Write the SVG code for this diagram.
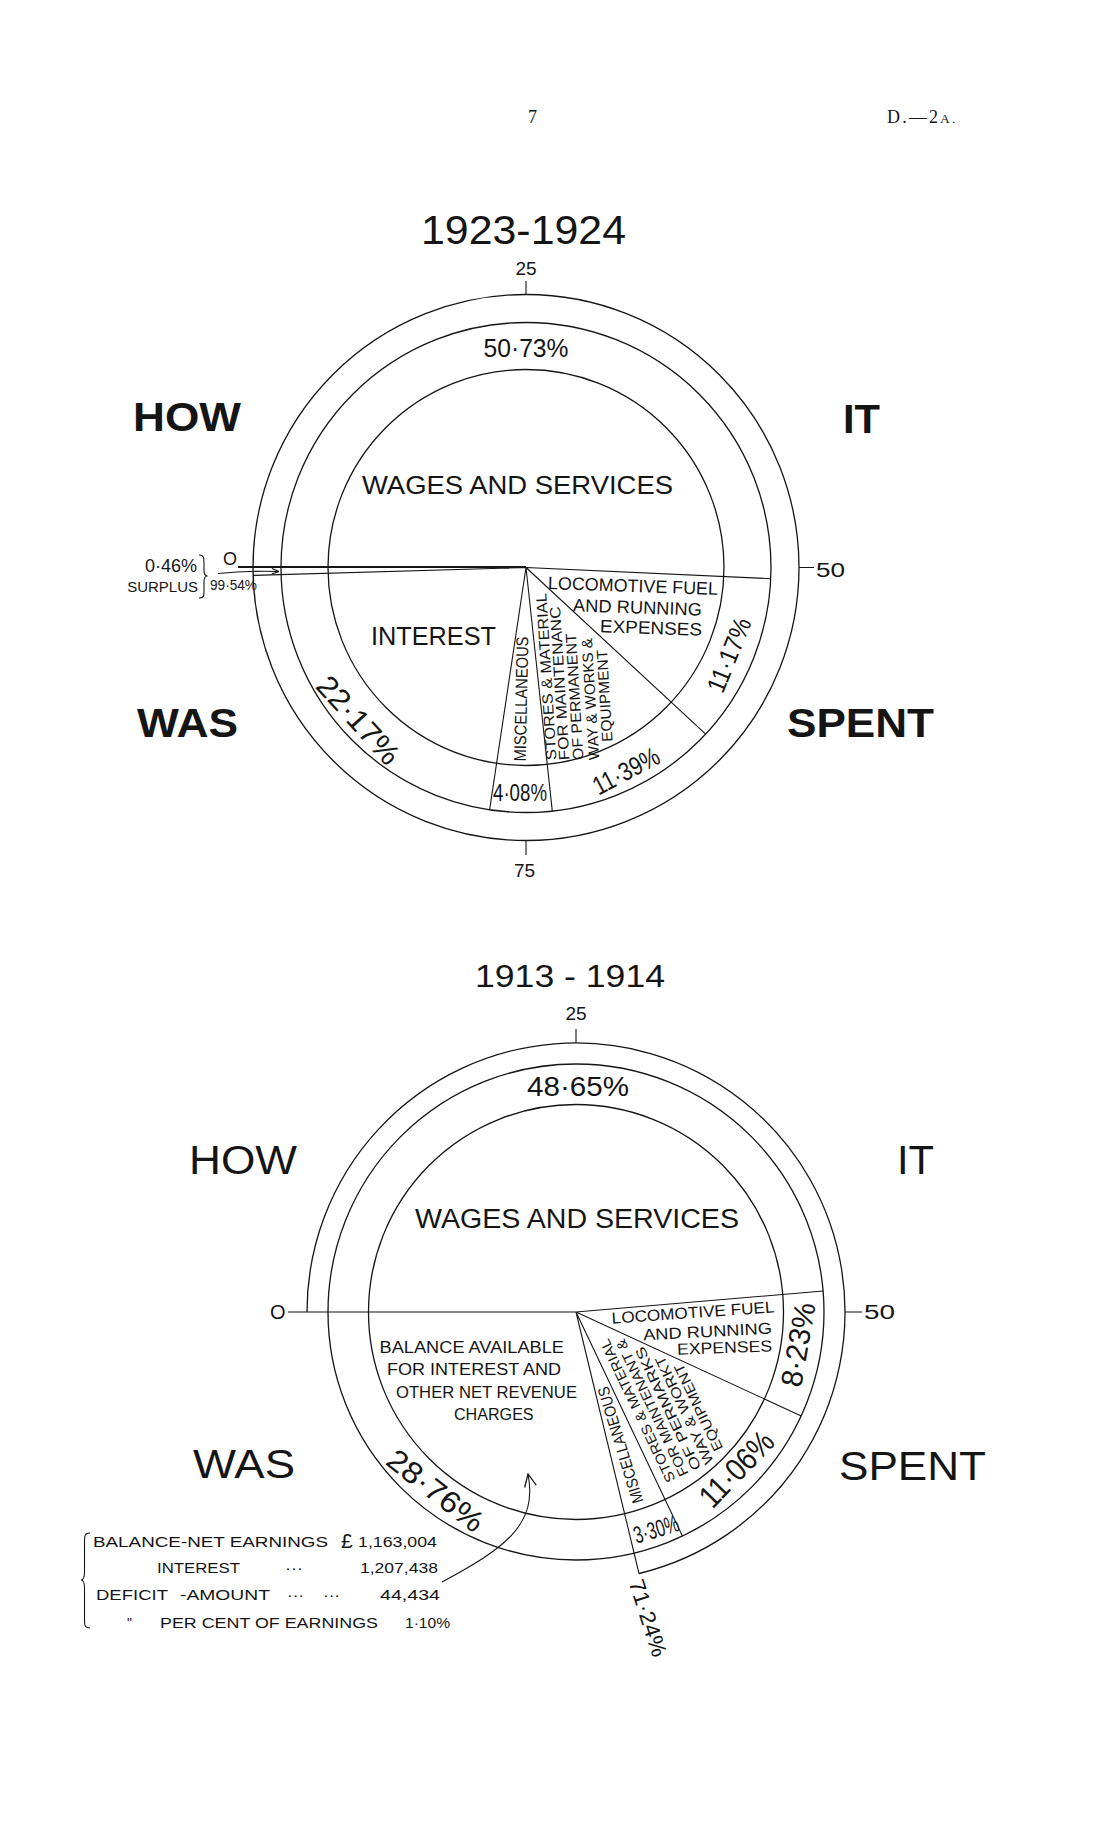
<svg xmlns="http://www.w3.org/2000/svg" width="1114" height="1829" viewBox="0 0 1114 1829">
<defs>
<style>
.ln{fill:none;stroke:#151515;stroke-width:1.1}
.circ{fill:none;stroke:#151515;stroke-width:1.3}
.thick{fill:none;stroke:#151515;stroke-width:1.8}
text{font-family:"Liberation Sans",Arial,sans-serif;fill:#151515}
.serif{font-family:"Liberation Serif","Times New Roman",serif}
.m{text-anchor:middle}
.c{text-anchor:middle;dominant-baseline:central}
.big{font-size:40px}
.b{font-weight:bold}
</style>
<marker id="arrS" viewBox="0 0 10 10" refX="9.5" refY="5" markerWidth="8" markerHeight="8" orient="auto" markerUnits="userSpaceOnUse">
<path d="M0.5,1.5 L9.5,5 L0.5,8.5" fill="none" stroke="#151515" stroke-width="1.3"/>
</marker>
<marker id="arrL" viewBox="0 0 10 10" refX="9.5" refY="5" markerWidth="14" markerHeight="14" orient="auto" markerUnits="userSpaceOnUse">
<path d="M0.5,0.8 L9.5,5 L0.5,9.2" fill="none" stroke="#151515" stroke-width="0.9"/>
</marker>
</defs>
<rect width="1114" height="1829" fill="#ffffff"/>

<g id="header">
<text class="serif" x="528" y="123" font-size="18">7</text>
<text class="serif" x="887" y="123" font-size="18" letter-spacing="2.2">D.—2<tspan font-size="13">A.</tspan></text>
</g>

<!-- ============ 1923-1924 ============ -->
<g id="chart-1923">
<text id="title-1923" x="523.5" y="243.6" font-size="40" class="m" textLength="205" lengthAdjust="spacingAndGlyphs">1923-1924</text>
<g id="rings-1923">
<circle cx="526" cy="567.5" r="273" class="circ"/>
<circle cx="526" cy="567.5" r="245" class="circ"/>
<circle cx="526" cy="567.5" r="198" class="circ"/>
</g>
<g id="scale-1923">
<path class="ln" d="M526,281 V294.5 M526,840.5 V855 M799,567.5 H814"/>
<text x="526" y="275" font-size="19" class="m">25</text>
<text x="524.5" y="877" font-size="19" class="m">75</text>
<text x="816" y="576.5" font-size="20" textLength="29" lengthAdjust="spacingAndGlyphs">50</text>
<text x="223" y="565" font-size="18">O</text>
</g>
<g id="wedges-1923">
<path class="thick" d="M238,567 H526"/>
<path class="ln" d="M526,567.5 L253.1,575.4 M526,567.5 L770.7,578.7 M526,567.5 L705.7,734.1 M526,567.5 L552.3,811.1 M526,567.5 L489.6,809.8"/>
</g>
<g id="wages-1923">
<text x="526" y="357" font-size="26" class="m" textLength="85" lengthAdjust="spacingAndGlyphs">50·73%</text>
<text x="517.5" y="493.6" font-size="25" class="m" textLength="311" lengthAdjust="spacingAndGlyphs">WAGES AND SERVICES</text>
</g>
<g id="loco-1923">
<text x="633" y="592" font-size="18" class="m" textLength="170" lengthAdjust="spacingAndGlyphs" transform="rotate(2 633 586)">LOCOMOTIVE FUEL</text>
<text x="637.5" y="613.5" font-size="18" class="m" textLength="129" lengthAdjust="spacingAndGlyphs" transform="rotate(2 637.5 608)">AND RUNNING</text>
<text x="651" y="634" font-size="18" class="m" textLength="102" lengthAdjust="spacingAndGlyphs" transform="rotate(2 651 628)">EXPENSES</text>
<text class="c" font-size="26" textLength="78" lengthAdjust="spacingAndGlyphs" transform="translate(729 655) rotate(-68)">11·17%</text>
</g>
<g id="stores-1923">
<text class="c" font-size="15" textLength="167" lengthAdjust="spacingAndGlyphs" transform="translate(545.9 676.7) rotate(-93.5)">STORES &amp; MATERIAL</text>
<text class="c" font-size="15" textLength="154" lengthAdjust="spacingAndGlyphs" transform="translate(559.2 683.4) rotate(-93.5)">FOR MAINTENANC</text>
<text class="c" font-size="15" textLength="127" lengthAdjust="spacingAndGlyphs" transform="translate(574.2 696.7) rotate(-93.5)">OF PERMANENT</text>
<text class="c" font-size="15" textLength="122" lengthAdjust="spacingAndGlyphs" transform="translate(590 699.2) rotate(-93.5)">WAY &amp; WORKS &amp;</text>
<text class="c" font-size="15" textLength="92" lengthAdjust="spacingAndGlyphs" transform="translate(604.2 695.9) rotate(-93.5)">EQUIPMENT</text>
<text class="c" font-size="26" textLength="72" lengthAdjust="spacingAndGlyphs" transform="translate(626 771) rotate(-28)">11·39%</text>
</g>
<g id="misc-1923">
<text class="c" font-size="17" textLength="125" lengthAdjust="spacingAndGlyphs" transform="translate(521.5 699) rotate(-88.8)">MISCELLANEOUS</text>
<text x="520" y="801" font-size="24" class="m" textLength="54" lengthAdjust="spacingAndGlyphs">4·08%</text>
</g>
<g id="interest-1923">
<text x="433.5" y="645" font-size="25" class="m" textLength="125" lengthAdjust="spacingAndGlyphs">INTEREST</text>
<text class="c" font-size="30" textLength="108" lengthAdjust="spacingAndGlyphs" transform="translate(358.5 720) rotate(48)">22·17%</text>
</g>
<g id="surplus-1923">
<text x="197" y="572" font-size="18" text-anchor="end">0·46%</text>
<text x="198" y="591.5" font-size="15" text-anchor="end">SURPLUS</text>
<path class="ln" d="M199,555 C204,555 204,558 204,563 L204,570 C204,574 205,576 207.5,576 C205,576 204,578 204,582 L204,591 C204,596 204,598 199,598"/>
<text x="210" y="590" font-size="14" textLength="47" lengthAdjust="spacingAndGlyphs">99·54%</text>
</g>
<g id="words-1923" class="b">
<text x="133" y="431" class="big" textLength="108" lengthAdjust="spacingAndGlyphs">HOW</text>
<text x="843" y="433" class="big" textLength="37" lengthAdjust="spacingAndGlyphs">IT</text>
<text x="137" y="737" class="big" textLength="101" lengthAdjust="spacingAndGlyphs">WAS</text>
<text x="787" y="737" class="big" textLength="147" lengthAdjust="spacingAndGlyphs">SPENT</text>
</g>
</g>

<!-- ============ 1913-1914 ============ -->
<g id="chart-1913">
<text id="title-1913" x="570" y="987" font-size="31" class="m" textLength="190" lengthAdjust="spacingAndGlyphs">1913 - 1914</text>
<g id="rings-1913">
<path class="circ" d="M307,1312 A269,269 0 1 1 639,1573.5"/>
<circle cx="576" cy="1312" r="248" class="circ"/>
<circle cx="576" cy="1312" r="207.5" class="circ"/>
</g>
<g id="scale-1913">
<path class="ln" d="M576,1029 V1043 M845,1312 H862"/>
<text x="576" y="1020" font-size="19" class="m">25</text>
<text x="864" y="1319" font-size="20" textLength="31" lengthAdjust="spacingAndGlyphs">50</text>
<text x="270" y="1319" font-size="20">O</text>
</g>
<g id="wedges-1913">
<path class="ln" d="M288,1312 H576 M576,1312 L823.1,1291 M576,1312 L801.2,1415.9 M576,1312 L682.4,1536 M576,1312 L639,1573.5"/>
</g>
<g id="wages-1913">
<text x="578" y="1096" font-size="27" class="m" textLength="102" lengthAdjust="spacingAndGlyphs">48·65%</text>
<text x="577" y="1228" font-size="27" class="m" textLength="324" lengthAdjust="spacingAndGlyphs">WAGES AND SERVICES</text>
</g>
<g id="loco-1913">
<text x="693" y="1318" font-size="16" class="m" textLength="163" lengthAdjust="spacingAndGlyphs" transform="rotate(-4 693 1312)">LOCOMOTIVE FUEL</text>
<text x="707.5" y="1337" font-size="16" class="m" textLength="129" lengthAdjust="spacingAndGlyphs" transform="rotate(-3 707.5 1331)">AND RUNNING</text>
<text x="724.5" y="1353" font-size="16" class="m" textLength="95" lengthAdjust="spacingAndGlyphs" transform="rotate(-2 724.5 1347)">EXPENSES</text>
<text class="c" font-size="30" textLength="85" lengthAdjust="spacingAndGlyphs" transform="translate(798 1344.5) rotate(-80)">8·23%</text>
</g>
<g id="stores-1913">
<text class="c" font-size="14" textLength="157" lengthAdjust="spacingAndGlyphs" transform="translate(637.5 1410.9) rotate(-115.5)">STORES &amp; MATERIAL</text>
<text class="c" font-size="14" textLength="150" lengthAdjust="spacingAndGlyphs" transform="translate(652 1408) rotate(-115.5)">FOR MAINTENANT &amp;</text>
<text class="c" font-size="14" textLength="135" lengthAdjust="spacingAndGlyphs" transform="translate(667.9 1408.7) rotate(-115.5)">OF PERMARKS</text>
<text class="c" font-size="14" textLength="118" lengthAdjust="spacingAndGlyphs" transform="translate(684.2 1410.3) rotate(-115.5)">WAY &amp; WORKT</text>
<text class="c" font-size="14" textLength="95" lengthAdjust="spacingAndGlyphs" transform="translate(698.3 1407.5) rotate(-115.5)">EQUIPMENT</text>
<text class="c" font-size="32" textLength="92" lengthAdjust="spacingAndGlyphs" transform="translate(736.5 1469) rotate(-46)">11·06%</text>
</g>
<g id="misc-1913">
<text class="c" font-size="16" textLength="121" lengthAdjust="spacingAndGlyphs" transform="translate(620.5 1445) rotate(-107)">MISCELLANEOUS</text>
<text class="c" font-size="24" textLength="46" lengthAdjust="spacingAndGlyphs" transform="translate(656 1529) rotate(-17)">3·30%</text>
<text class="c" font-size="22" textLength="80" lengthAdjust="spacingAndGlyphs" transform="translate(648 1618) rotate(72)">71·24%</text>
</g>
<g id="balance-1913">
<text x="379.6" y="1353" font-size="16" textLength="184.4" lengthAdjust="spacingAndGlyphs">BALANCE AVAILABLE</text>
<text x="387" y="1375" font-size="16" textLength="174" lengthAdjust="spacingAndGlyphs">FOR INTEREST AND</text>
<text x="396" y="1397.5" font-size="16" textLength="181" lengthAdjust="spacingAndGlyphs">OTHER NET REVENUE</text>
<text x="454" y="1420" font-size="16" textLength="79.6" lengthAdjust="spacingAndGlyphs">CHARGES</text>
<text class="c" font-size="30" textLength="114" lengthAdjust="spacingAndGlyphs" transform="translate(435.6 1490.4) rotate(38)">28·76%</text>
</g>
<g id="words-1913">
<text x="189" y="1174" class="big" textLength="108" lengthAdjust="spacingAndGlyphs">HOW</text>
<text x="897" y="1174" class="big" textLength="37" lengthAdjust="spacingAndGlyphs">IT</text>
<text x="193" y="1478" class="big" textLength="102" lengthAdjust="spacingAndGlyphs">WAS</text>
<text x="839" y="1480" class="big" textLength="147" lengthAdjust="spacingAndGlyphs">SPENT</text>
</g>
<g id="deficit-table" font-size="14">
<path class="ln" d="M90,1533 C84.5,1533 84.5,1536 84.5,1541 L84.5,1572 C84.5,1577 84,1580 81,1580 C84,1580 84.5,1583 84.5,1588 L84.5,1620 C84.5,1625 84.5,1628 90,1628"/>
<text x="93" y="1547" textLength="235" lengthAdjust="spacingAndGlyphs">BALANCE-NET EARNINGS</text>
<text x="341" y="1548" font-size="21">£</text>
<text x="358" y="1547" font-size="15" textLength="79" lengthAdjust="spacingAndGlyphs">1,163,004</text>
<text x="157" y="1573" textLength="83" lengthAdjust="spacingAndGlyphs">INTEREST</text>
<text x="285" y="1573" textLength="18" lengthAdjust="spacingAndGlyphs">···</text>
<text x="360" y="1573" font-size="15" textLength="78" lengthAdjust="spacingAndGlyphs">1,207,438</text>
<text x="96" y="1600" textLength="72" lengthAdjust="spacingAndGlyphs">DEFICIT</text>
<text x="180" y="1600" textLength="90" lengthAdjust="spacingAndGlyphs">-AMOUNT</text>
<text x="287" y="1600" textLength="17" lengthAdjust="spacingAndGlyphs">···</text>
<text x="323" y="1600" textLength="17" lengthAdjust="spacingAndGlyphs">···</text>
<text x="380" y="1600" font-size="15" textLength="60" lengthAdjust="spacingAndGlyphs">44,434</text>
<text x="127" y="1628">"</text>
<text x="160" y="1628" textLength="218" lengthAdjust="spacingAndGlyphs">PER CENT OF EARNINGS</text>
<text x="405" y="1628" font-size="15" textLength="45" lengthAdjust="spacingAndGlyphs">1·10%</text>
</g>
</g>

<g id="connectors">
<path class="ln" d="M218,573.5 Q248,570.5 279,571.5" marker-end="url(#arrS)"/>
<path class="ln" d="M442,1582 C505,1548 538,1525 528,1474" marker-end="url(#arrL)"/>
</g>
</svg>
